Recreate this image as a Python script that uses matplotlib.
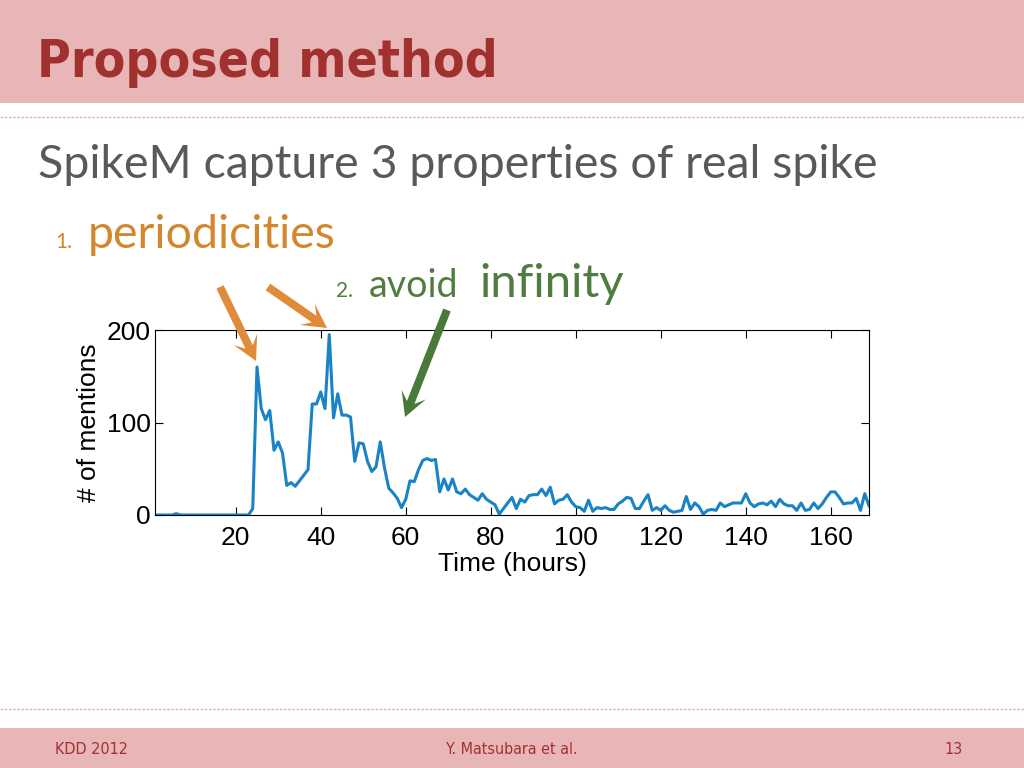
import numpy as np
import matplotlib.pyplot as plt
from matplotlib.patches import Rectangle, FancyArrow

# hourly mention counts, hour 1..169
hours = np.arange(1, 170)
mentions = [0, 0, 0, 0, 0, 1.5, 0, 0, 0, 0,
            0, 0, 0, 0, 0, 0, 0, 0, 0, 0,
            0, 0, 0, 7, 160, 115, 103, 113, 70, 79,
            67, 32, 35, 31, 37, 43, 49, 120, 120, 133,
            115, 195, 105, 131, 108, 108, 106, 58, 78, 77,
            58, 47, 52, 79, 51, 29, 24, 18, 8, 17,
            37, 36, 49, 59, 61, 59, 60, 25, 39, 27,
            39, 25, 23, 28, 22, 19, 16, 23, 17, 14,
            11, 1, 7, 13, 19, 7, 17, 14, 21, 22,
            22, 28, 21, 30, 12, 16, 17, 22, 14, 9,
            8, 4, 16, 4, 8, 7, 8, 6, 6, 12,
            15, 19, 18, 7, 7, 15, 22, 5, 8, 5,
            10, 5, 3, 4, 5, 20, 6, 13, 9, 1,
            5, 6, 5, 13, 9, 11, 13, 13, 13, 23,
            13, 9, 12, 13, 11, 15, 9, 17, 12, 10,
            10, 5, 13, 5, 6, 13, 7, 12, 19, 25,
            25, 19, 12, 13, 13, 18, 5, 23, 10]

yticks = [0, 100, 200]
xticks = [20, 40, 60, 80, 100, 120, 140, 160]

pink = '#e9b6b8'
title_red = '#a0312f'
orange = '#d4862c'
green = '#4f7c3f'
slide_font = ['Lato', 'DejaVu Sans']
plot_font = ['Liberation Sans', 'DejaVu Sans']

fig = plt.figure(figsize=(10.24, 7.68), dpi=100)

# slide background in pixel coordinates
bg = fig.add_axes([0, 0, 1, 1])
bg.set_xlim(0, 1024)
bg.set_ylim(768, 0)
bg.axis('off')
bg.add_patch(Rectangle((0, 0), 1024, 103, color=pink, lw=0))
bg.add_patch(Rectangle((0, 728), 1024, 40, color=pink, lw=0))
bg.plot([0, 1024], [117, 117], color='#e3b0b2', lw=1, ls=(0, (2, 1)))
bg.plot([0, 1024], [709, 709], color='#e3b0b2', lw=1, ls=(0, (2, 1)))

bg.text(37, 77, 'Proposed method', fontsize=37, fontweight='bold',
        fontstretch='condensed', color=title_red, family='DejaVu Sans',
        va='baseline')
bg.text(38, 178, 'SpikeM capture 3 properties of real spike', fontsize=33.5,
        color='#595959', family=slide_font, va='baseline')
bg.text(55, 248, '1.', fontsize=15, color=orange, family=slide_font, va='baseline')
bg.text(88, 248, 'periodicities', fontsize=33.5, color=orange, family=slide_font,
        va='baseline')
bg.text(336, 297, '2.', fontsize=15, color=green, family=slide_font, va='baseline')
bg.text(369, 297, 'avoid', fontsize=27, color=green, family=slide_font, va='baseline')
bg.text(479, 297, 'infinity', fontsize=34, color=green, family=slide_font,
        va='baseline')

bg.text(55, 754, 'KDD 2012', fontsize=11.5, color=title_red, family='DejaVu Sans',
        fontstretch='condensed', va='baseline')
bg.text(512, 754, 'Y. Matsubara et al.', fontsize=11.5, color=title_red,
        family='DejaVu Sans', fontstretch='condensed', va='baseline', ha='center')
bg.text(963, 754, '13', fontsize=11.5, color=title_red, family='DejaVu Sans',
        fontstretch='condensed', va='baseline', ha='right')

# the chart
ax = fig.add_axes([155 / 1024, 1 - 515 / 768, 714 / 1024, 185 / 768])
ax.plot(hours, mentions, color='#1a83c6', lw=2.2)
ax.set_xlim(1, 169)
ax.set_ylim(0, 200)
ax.set_xticks(xticks)
ax.set_yticks(yticks)
ax.tick_params(direction='in', top=True, right=True, length=6, labelsize=19)
ax.tick_params(axis='x', pad=8)
ax.tick_params(axis='y', pad=3)
for lab in ax.get_xticklabels() + ax.get_yticklabels():
    lab.set_family(plot_font)
ax.set_xlabel('Time (hours)', fontsize=19, family=plot_font, labelpad=1)
ax.set_ylabel('# of mentions', fontsize=19, family=plot_font, labelpad=4)

# arrows on top
fg = fig.add_axes([0, 0, 1, 1])
fg.set_xlim(0, 1024)
fg.set_ylim(768, 0)
fg.axis('off')
fg.patch.set_alpha(0)
arrows = [((220, 287), (256, 361), '#e08a3c'),
          ((268, 287), (327, 328), '#e08a3c'),
          ((447, 310), (405, 417), '#4a7a3a')]
for (x0, y0), (x1, y1), c in arrows:
    fg.add_patch(FancyArrow(x0, y0, x1 - x0, y1 - y0, width=8, head_width=26,
                            head_length=24, overhang=0.35,
                            length_includes_head=True, color=c, lw=0))

fig.savefig('out.png', dpi=100)
